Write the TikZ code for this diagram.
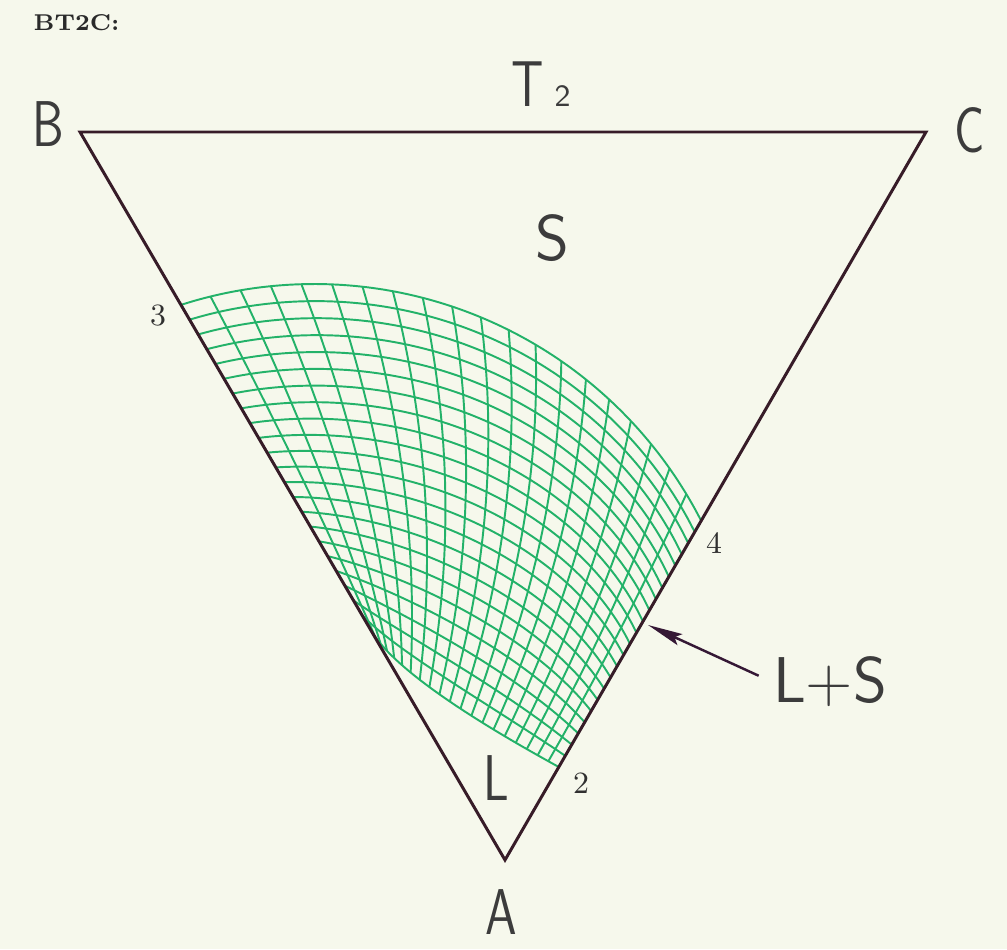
\documentclass[tikz,border=0pt]{standalone}
\usepackage{tikz}
\usetikzlibrary{arrows.meta,calc,positioning}
\definecolor{paper}{RGB}{246,248,236}
\definecolor{meshgreen}{RGB}{35,178,105}
\definecolor{edgecol}{RGB}{55,28,40}
\definecolor{labelgray}{RGB}{60,60,60}
\definecolor{arrowcol}{RGB}{75,35,75}
\newcommand{\narrow}[1]{\scalebox{0.78}[1]{#1}}

\begin{document}
\begin{tikzpicture}[x={(0.01cm,0)}, y={(0,-0.01cm)},
    declare function={
      topx(\v)=314+435*cos(107.8-80.7*\v);
      topy(\v)=719-435*sin(107.8-80.7*\v);
      bw(\v)=\v+0.35*\v*(1-\v);
      botx(\v)=(1-bw(\v))*(1-bw(\v))*370.7+2*(1-bw(\v))*bw(\v)*400+bw(\v)*bw(\v)*558.8;
      boty(\v)=(1-bw(\v))*(1-bw(\v))*630+2*(1-bw(\v))*bw(\v)*680+bw(\v)*bw(\v)*767;
      bowx(\v)=320*\v*(1-\v);
      meshx(\u,\v)=(1-\u)*topx(\v)+\u*botx(\v)+\u*(1-\u)*bowx(\v);
      meshy(\u,\v)=(1-\u)*topy(\v)+\u*boty(\v);
    },
    edge/.style={draw=edgecol, line width=0.85pt},
    meshline/.style={draw=meshgreen, line width=0.55pt},
    letterlabel/.style={inner sep=0pt, text=labelgray, font=\sffamily\fontsize{18.4}{20}\selectfont},
    numlabel/.style={inner sep=0pt, text=labelgray!80!black, font=\fontsize{8.8}{10}\selectfont},
    pointer/.style={draw=arrowcol!70!black, line width=0.7pt, -{Stealth[length=0.35cm, width=0.12cm, inset=0.06cm]}, shorten <=0.15cm}]

  % Paper background and picture size
  \fill[paper] (0,0) rectangle (1007,949);
  \useasboundingbox (0,0) rectangle (1007,949);

  % Draw header text
  \node[inner sep=0pt, anchor=west, text=labelgray!70!black, font=\bfseries\fontsize{6.5}{7}\selectfont] (header) at (33,23) {BT2C:};

  % Draw the L+S mesh, first the curves running from edge to edge
  \foreach \i in {0,...,22}{
    \draw[meshline] plot[domain=0:1, samples=40, smooth, variable=\t]
      ({meshx(\i/22,\t)}, {meshy(\i/22,\t)});
  }
  % then the curves running from the outer arc down to the lower curve
  \foreach \j in {0,...,20}{
    \draw[meshline] plot[domain=0:1, samples=20, smooth, variable=\t]
      ({meshx(\t,\j/20)}, {meshy(\t,\j/20)});
  }

  % Draw the triangle
  \coordinate (B) at (80,132);
  \coordinate (C) at (926,132);
  \coordinate (A) at (505,860);
  \draw[edge] (B) -- (C) -- (A) -- cycle;

  % Corner labels
  \node[letterlabel] (Blabel) at (48,124) {\narrow{B}};
  \node[letterlabel] (Clabel) at (970,130) {\narrow{C}};
  \node[letterlabel] (Alabel) at (501,912) {\narrow{A}};
  \node[letterlabel, anchor=south] (T2label) at (541,107) {\narrow{T}\,{\fontsize{8.8}{10}\selectfont 2}};

  % Phase labels
  \node[letterlabel] (Slabel) at (552,238) {S};
  \node[letterlabel] (Llabel) at (496,778) {\narrow{L}};
  \node[letterlabel] (LS) at (830,682) {L+S};

  % Point numbers
  \node[numlabel] (p3) at (158,316) {3};
  \node[numlabel] (p4) at (714,543) {4};
  \node[numlabel] (p2) at (581,783) {2};

  % Arrow to the L+S region
  \coordinate (LStip) at (648,625);
  \draw[pointer] (LS.west) -- (LStip);
\end{tikzpicture}
\end{document}
